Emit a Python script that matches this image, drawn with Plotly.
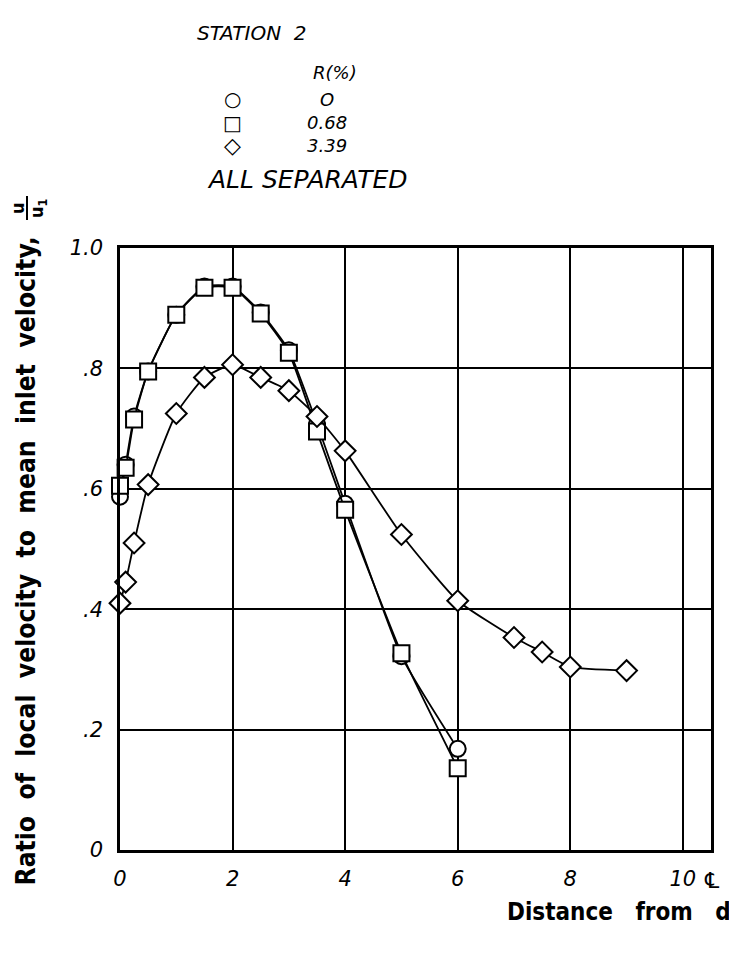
import plotly.graph_objects as go

# Data
x_r0 = [0, 0.1, 0.25, 0.5, 1, 1.5, 2, 2.5, 3, 3.5, 4, 5, 6]
y_r0 = [0.587, 0.64, 0.72, 0.795, 0.889, 0.936, 0.936, 0.893, 0.83, 0.708, 0.575, 0.322, 0.168]

x_r068 = [0, 0.1, 0.25, 0.5, 1, 1.5, 2, 2.5, 3, 3.5, 4, 5, 6]
y_r068 = [0.605, 0.635, 0.715, 0.795, 0.889, 0.934, 0.934, 0.891, 0.826, 0.695, 0.565, 0.327, 0.136]

x_r339 = [0, 0.1, 0.25, 0.5, 1, 1.5, 2, 2.5, 3, 3.5, 4, 5, 6, 7, 7.5, 8, 9]
y_r339 = [0.41, 0.445, 0.51, 0.607, 0.725, 0.785, 0.806, 0.785, 0.763, 0.72, 0.663, 0.524, 0.414, 0.353, 0.329, 0.304, 0.298]

x_tickvals = [0, 2, 4, 6, 8, 10]
x_ticktext = ["0", "2", "4", "6", "8", "10"]
y_tickvals = [0, 0.2, 0.4, 0.6, 0.8, 1.0]
y_ticktext = ["0", ".2", ".4", ".6", ".8", "1.0"]

legend_labels = ["O", "0.68", "3.39"]
legend_symbols = ["○", "□", "◇"]

ITAL = dict(family="DejaVu Sans", color="black", style="italic")
BOLD = dict(family="DejaVu Sans Condensed, DejaVu Sans", color="black", weight="bold")

fig = go.Figure()

def add_series(xs, ys, symbol):
    fig.add_trace(go.Scatter(
        x=xs, y=ys, mode="lines+markers",
        line=dict(color="black", width=1.8, shape="spline", smoothing=0.5),
        marker=dict(symbol=symbol, size=16, color="white",
                    line=dict(color="black", width=2)),
        showlegend=False, cliponaxis=False,
    ))

add_series(x_r0, y_r0, "circle")
add_series(x_r068, y_r068, "square")
add_series(x_r339, y_r339, "diamond")

fig.update_xaxes(
    range=[0, 10.5], tickvals=x_tickvals, ticktext=x_ticktext,
    showgrid=True, gridcolor="black", gridwidth=1.5,
    showline=True, linecolor="black", linewidth=2.5, mirror=True,
    zeroline=False, ticks="", tickfont=dict(size=21, **ITAL),
    ticklabelstandoff=8,
)
fig.update_yaxes(
    range=[0, 1.0], tickvals=y_tickvals, ticktext=y_ticktext,
    showgrid=True, gridcolor="black", gridwidth=1.5,
    showline=True, linecolor="black", linewidth=2.5, mirror=True,
    zeroline=False, ticks="", tickfont=dict(size=21, **ITAL),
    ticklabelstandoff=10,
)

def px2paper(px, py):
    return (px - 120) / 591.0, (850 - py) / 602.0

anns = []
def ann(text, px, py, size, font=None, xanchor="center", yanchor="middle", **kw):
    x, y = px2paper(px, py)
    f = dict(size=size, **(font or ITAL))
    anns.append(dict(text=text, x=x, y=y, xref="paper", yref="paper",
                     showarrow=False, font=f, xanchor=xanchor,
                     yanchor=yanchor, **kw))

ann("STATION&nbsp;&nbsp;2", 252, 33, 20)
ann("R(%)", 335, 72, 18)
sym_sizes = [20, 20, 22]
for i, (s, lab) in enumerate(zip(legend_symbols, legend_labels)):
    yy = 99 + i * 23.5
    ann(s, 232, yy, sym_sizes[i], font=dict(family="DejaVu Sans", color="black"))
    ann(lab, 327, yy, 18)
ann("ALL SEPARATED", 307, 180, 25)
ann("℄", 712, 880, 22, font=dict(family="DejaVu Sans", color="black"))

ann("Distance&nbsp;&nbsp;&nbsp;from&nbsp;&nbsp;&nbsp;d", 505, 912, 24, font=BOLD, xanchor="left")
ann("Ratio&nbsp;&nbsp;of&nbsp;&nbsp;local&nbsp;&nbsp;velocity&nbsp;&nbsp;to&nbsp;&nbsp;mean&nbsp;&nbsp;inlet&nbsp;&nbsp;velocity,",
    25, 888, 26.2, font=BOLD, textangle=-90, yanchor="bottom")
ann("u", 17, 208, 18, font=BOLD, textangle=-90)
ann("u<sub>1</sub>", 38, 208, 18, font=BOLD, textangle=-90)

fig.update_layout(
    width=729, height=954,
    margin=dict(l=120, r=18, t=248, b=104),
    paper_bgcolor="white", plot_bgcolor="white",
    annotations=anns,
)
fig.add_shape(type="line", xref="paper", yref="paper",
              x0=px2paper(27, 0)[0], x1=px2paper(27, 0)[0],
              y0=px2paper(0, 196)[1], y1=px2paper(0, 220)[1],
              line=dict(color="black", width=2))

fig.write_html("out.html")
